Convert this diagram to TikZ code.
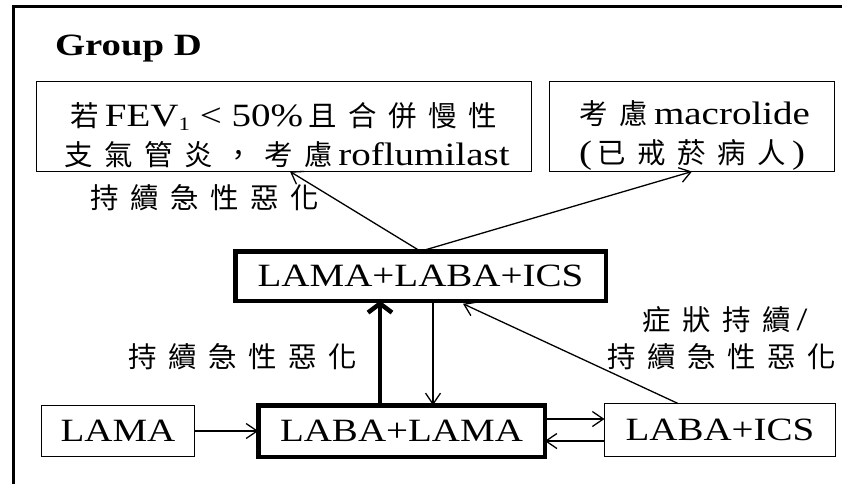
\documentclass[tikz,border=0pt]{standalone}
\usepackage{fontspec}
\setmainfont{Liberation Serif}[FakeStretch=1.2]
\newfontfamily\cjkf{Noto Sans CJK TC}[Scale=0.875]
\newfontfamily\grpf{Liberation Serif}[FakeStretch=1.25]
\usetikzlibrary{arrows.meta}
\def\cjspread#1{\ifx#1\relax\else\makebox[40pt]{\cjkf #1}\expandafter\cjspread\fi}
\newcommand\subone{\raisebox{-4pt}{\fontsize{19}{19}\selectfont 1}}
\newcommand\highstrut{\rule{0pt}{41pt}}
\begin{document}
\begin{tikzpicture}[x=1pt,y=-1pt,
  every node/.style={inner sep=0pt, outer sep=0pt, font=\fontsize{32.5}{39}\selectfont},
  thinbox/.style={draw, line width=1.3pt, rectangle, align=center},
  thickbox/.style={draw, line width=4.5pt, rectangle, align=center},
  arr/.style={line width=1.3pt, -{Straight Barb[length=11pt,width=15pt]}},
  bigarr/.style={line width=4.5pt, -{Straight Barb[length=9pt,width=24pt]}},
  lbl/.style={align=center}]
\useasboundingbox (0,0) rectangle (842,483);
\fill[white] (0,0) rectangle (842,483);
% outer frame
\draw[line width=3pt] (846,6) -- (13,6) -- (13,487);
% title
\node[anchor=base west] (gd) at (55,55) {\grpf\bfseries\fontsize{31}{31}\selectfont Group D};
% boxes
\node[thinbox, minimum width=495pt, minimum height=90pt] (b1) at (284,126.5)
  {\highstrut\cjspread 若\relax FEV\subone{} < 50\%\cjspread 且合併慢性\relax\\
   \cjspread 支氣管炎，考慮\relax roflumilast};
\node[thinbox, minimum width=285pt, minimum height=90pt] (b2) at (692,126.5)
  {\highstrut\cjspread 考慮\relax macrolide\\(\cjspread 已戒菸病人\relax)};
\node[thickbox, minimum width=370.5pt, minimum height=49.5pt] (b3) at (420.5,276) {LAMA+LABA+ICS};
\node[thickbox, minimum width=286.5pt, minimum height=51.5pt] (b4) at (401.5,431) {LABA+LAMA};
\node[thinbox, minimum width=153pt, minimum height=51pt] (b5) at (118,431) {LAMA};
\node[thinbox, minimum width=231pt, minimum height=53pt] (b6) at (720,430) {LABA+ICS};
% labels
\node[lbl] (l1) at (205,198) {\cjspread 持續急性惡化\relax};
\node[lbl] (l2) at (243,357) {\cjspread 持續急性惡化\relax};
\node[lbl, font=\fontsize{32.5}{37}\selectfont] (l3) at (722,338) {\cjspread 症狀持續\relax/\\\cjspread 持續急性惡化\relax};
% connectors
\draw[arr] (b3.north) -- ([xshift=6pt]b1.south);
\draw[arr] (b3.north) -- (b2.south);
\draw[bigarr] ([xshift=-21.5pt]b4.north) -- ([xshift=-21.5pt]b4.north |- b3.south);
\draw[arr] ([xshift=12.5pt]b3.south) -- ([xshift=12.5pt]b3.south |- b4.north);
\draw[arr] ([xshift=-42pt]b6.north) -- ([xshift=42.5pt,yshift=-3pt]b3.south);
\draw[arr] (b5.east) -- (b5.east -| b4.west);
\draw[arr] ([yshift=12pt]b4.east) -- ([yshift=12pt]b4.east -| b6.west);
\draw[arr] ([yshift=-11pt]b6.west) -- ([yshift=-11pt]b6.west -| b4.east);
\end{tikzpicture}
\end{document}
